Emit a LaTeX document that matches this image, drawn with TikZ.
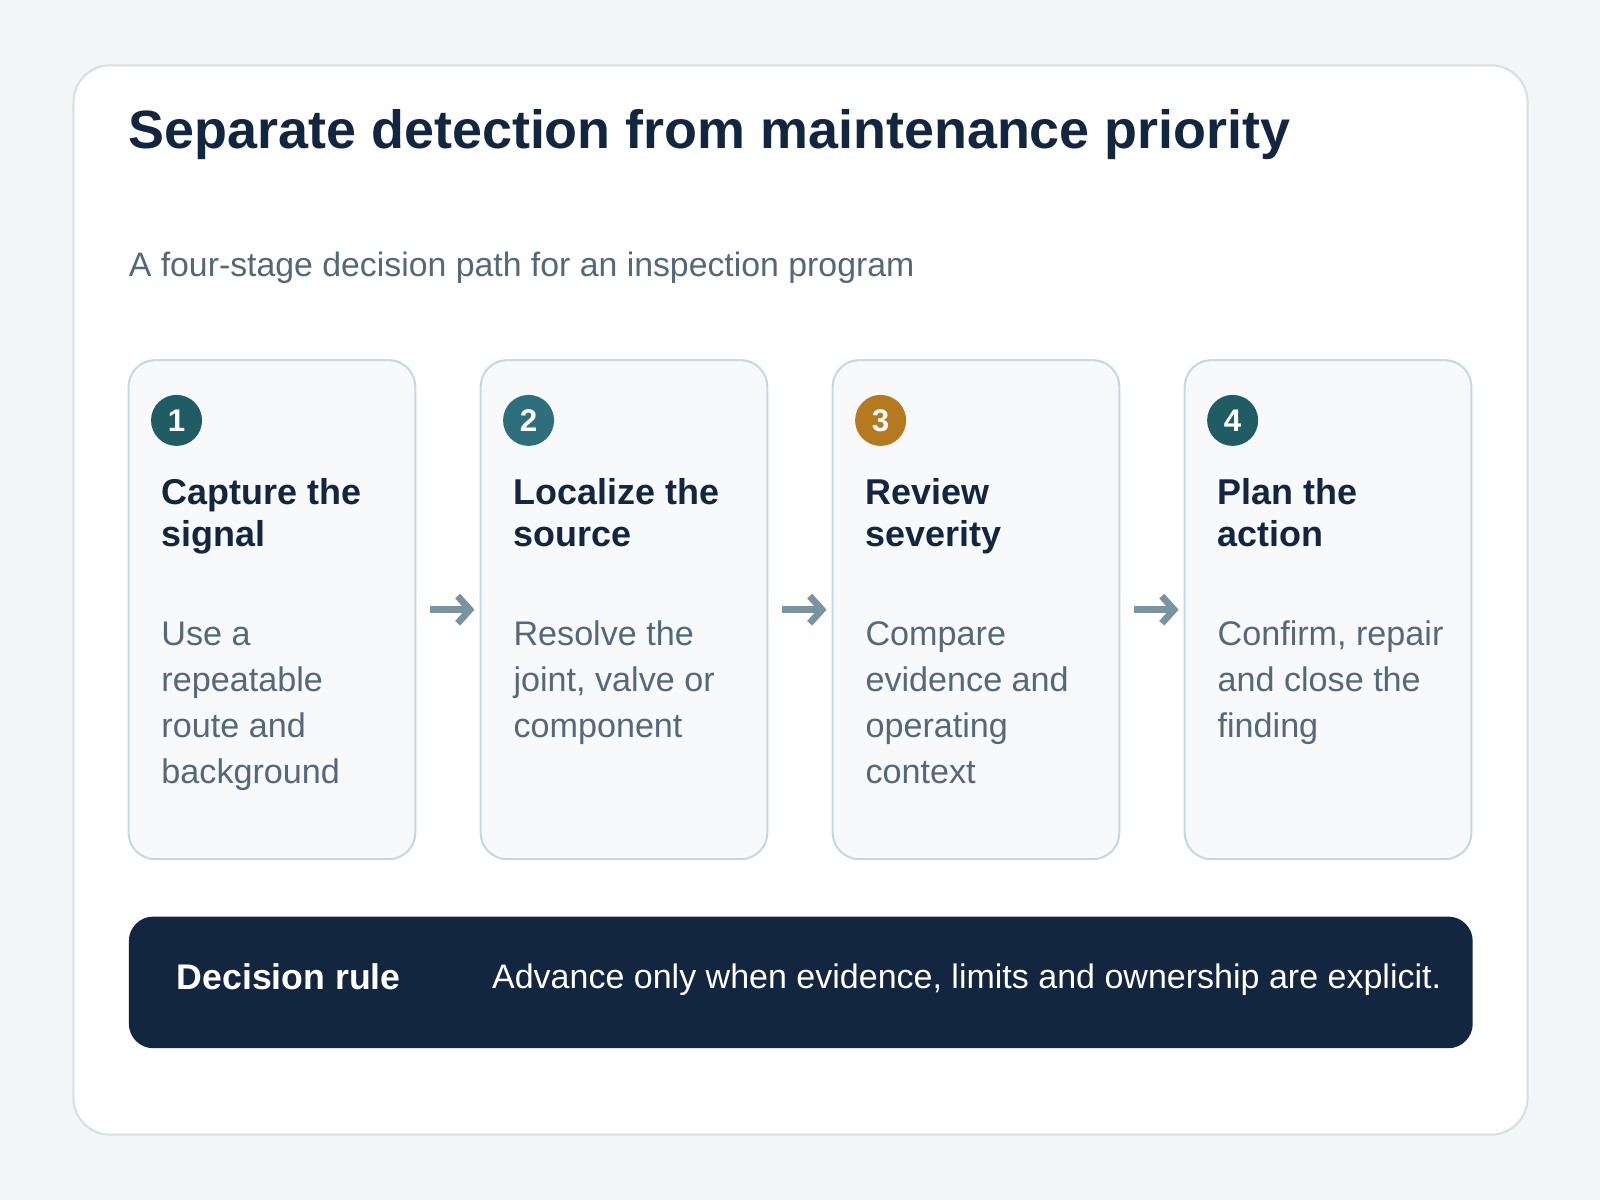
\documentclass[tikz,border=0pt]{standalone}
\usepackage{fontspec}
\setmainfont{Liberation Sans}
\usepackage{xcolor}
\usetikzlibrary{calc,positioning,arrows.meta}
\definecolor{pagebg}{HTML}{F3F6F7}
\definecolor{panelline}{HTML}{D6DFE4}
\definecolor{cardfill}{HTML}{F7F9FB}
\definecolor{cardline}{HTML}{CBD7DE}
\definecolor{navy}{HTML}{13263F}
\definecolor{muted}{HTML}{54687A}
\definecolor{tealdark}{HTML}{1F5C63}
\definecolor{teallight}{HTML}{2D6F7D}
\definecolor{amber}{HTML}{B57920}
\definecolor{flowc}{HTML}{7B939F}
\tikzset{
  panel/.style = {draw=panelline,fill=white,line width=1.5pt,rounded corners=27pt},
  card/.style = {draw=cardline,fill=cardfill,line width=1.5pt,rounded corners=19.5pt,
    minimum width=210.75pt,minimum height=366.75pt,inner sep=0pt,outer sep=0pt},
  badge/.style = {circle,minimum size=37.5pt,inner sep=0pt,text=white,
    font=\fontsize{23pt}{23pt}\selectfont\bfseries},
  headline/.style = {anchor=base west,inner sep=0pt,text=navy,
    font=\fontsize{39.6pt}{47pt}\selectfont\bfseries},
  subline/.style = {anchor=base west,inner sep=0pt,text=muted,
    font=\fontsize{24.85pt}{30pt}\selectfont},
  stagetitle/.style = {anchor=base west,inner sep=0pt,text=navy,
    font=\fontsize{26.4pt}{31.5pt}\selectfont\bfseries},
  stagetext/.style = {anchor=base west,inner sep=0pt,text=muted,
    font=\fontsize{25.1pt}{33.75pt}\selectfont},
  flow/.style = {flowc,line width=5pt,-{Straight Barb[length=9pt,width=20pt]},
    shorten <=10.5pt,shorten >=4.5pt},
  rulebar/.style = {fill=navy,rounded corners=18pt,anchor=north west,
    minimum width=987.75pt,minimum height=96.75pt,inner sep=0pt},
  rulelab/.style = {anchor=base west,inner sep=0pt,text=white}
}
\newlength{\cardgap}
\setlength{\cardgap}{48pt}
% lines stacked from the first baseline down
\newcommand{\lines}[1]{\begin{tabular}[t]{@{}l@{}}#1\end{tabular}}

\begin{document}
\begin{tikzpicture}[x=0.75pt,y=-0.75pt]
\fill[pagebg] (0,0) rectangle (1568,1176);
\draw[panel] (72,64) rectangle (1497,1112);

\node[headline] (title) at (126,145.5) {Separate detection from maintenance priority};
\node[subline] (subtitle) at (126,271) {A four-stage decision path for an inspection program};

% stages
\node[card,anchor=north west] (card1) at (126,353) {};
\node[card,right=\cardgap of card1] (card2) {};
\node[card,right=\cardgap of card2] (card3) {};
\node[card,right=\cardgap of card3] (card4) {};

\node[badge,fill=tealdark] (num1) at ($(card1.north west)+(47,59)$) {1};
\node[badge,fill=teallight] (num2) at ($(card2.north west)+(47,59)$) {2};
\node[badge,fill=amber] (num3) at ($(card3.north west)+(47,59)$) {3};
\node[badge,fill=tealdark] (num4) at ($(card4.north west)+(47,59)$) {4};

\node[stagetitle] (head1) at ($(card1.north west)+(32,141)$) {\lines{Capture the\\signal}};
\node[stagetitle] (head2) at ($(card2.north west)+(32,141)$) {\lines{Localize the\\source}};
\node[stagetitle] (head3) at ($(card3.north west)+(32,141)$) {\lines{Review\\severity}};
\node[stagetitle] (head4) at ($(card4.north west)+(32,141)$) {\lines{Plan the\\action}};

\node[stagetext] (body1) at ($(card1.north west)+(32,280)$) {\lines{Use a\\repeatable\\route and\\background}};
\node[stagetext] (body2) at ($(card2.north west)+(32,280)$) {\lines{Resolve the\\joint, valve or\\component}};
\node[stagetext] (body3) at ($(card3.north west)+(32,280)$) {\lines{Compare\\evidence and\\operating\\context}};
\node[stagetext] (body4) at ($(card4.north west)+(32,280)$) {\lines{Confirm, repair\\and close the\\finding}};

\draw[flow] (card1.east) -- (card2.west);
\draw[flow] (card2.east) -- (card3.west);
\draw[flow] (card3.east) -- (card4.west);

% decision rule
\node[rulebar] (rule) at (126,898) {};
\node[rulelab,font=\fontsize{26.2pt}{30pt}\selectfont\bfseries] (rulehead)
  at ($(rule.north west)+(47,72)$) {Decision rule};
\node[rulelab,font=\fontsize{25pt}{30pt}\selectfont] (ruletext)
  at ($(rule.north west)+(356,71)$) {Advance only when evidence, limits and ownership are explicit.};
\end{tikzpicture}
\end{document}
